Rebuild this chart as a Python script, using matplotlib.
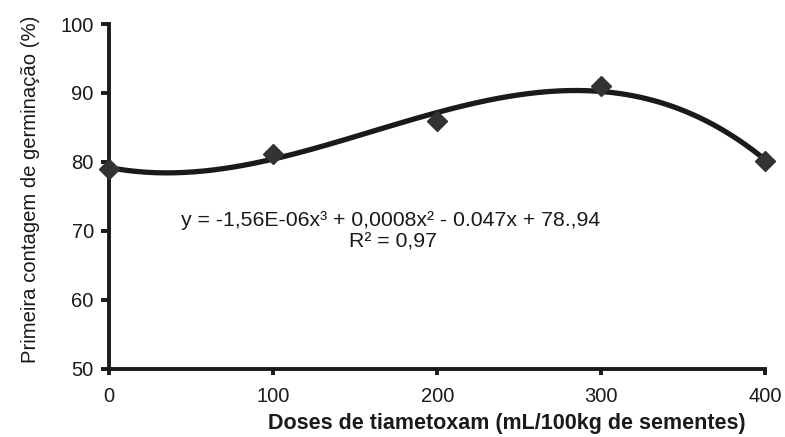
import matplotlib.pyplot as plt
import numpy as np

plt.rcParams['font.family'] = ['Liberation Sans', 'DejaVu Sans']

doses = [0, 100, 200, 300, 400]
germinacao = [79.0, 81.2, 86.0, 91.0, 80.1]

# linha de tendencia polinomial de ordem 3 (como no Excel)
coef = np.polyfit(doses, germinacao, 3)
xs = np.linspace(0, 400, 200)
ys = np.polyval(coef, xs)

fig = plt.figure(figsize=(7.85, 4.37), dpi=100)
ax = fig.add_axes([0.139, 0.156, 0.836, 0.789])

ax.plot(xs, ys, color='#1a1a1a', lw=3.8, zorder=2)
ax.plot(doses, germinacao, 'D', color='#333333', ms=10, zorder=3, clip_on=False)

ax.set_xlim(0, 400)
ax.set_ylim(50, 100)
ax.set_xticks(doses)
ax.set_yticks([50, 60, 70, 80, 90, 100])

for s in ['top', 'right']:
    ax.spines[s].set_visible(False)
for s in ['left', 'bottom']:
    ax.spines[s].set_linewidth(2.8)
    ax.spines[s].set_color('#1a1a1a')
ax.tick_params(direction='out', width=2.8, labelsize=14.5, colors='#1a1a1a')
ax.tick_params(axis='y', length=6, pad=5)
ax.tick_params(axis='x', length=4, pad=9)

ax.set_ylabel('Primeira contagem de germinação (%)', fontsize=14.6, color='#1a1a1a')
ax.yaxis.set_label_coords(-0.105, 0.52)
ax.set_xlabel('Doses de tiametoxam (mL/100kg de sementes)', fontsize=15.5, fontweight='bold',
              color='#1a1a1a')
ax.xaxis.set_label_coords(0.606, -0.128)

ax.text(0.11, 0.414, 'y = -1,56E-06x³ + 0,0008x² - 0.047x + 78.,94', transform=ax.transAxes,
        fontsize=15.3, color='#1a1a1a', va='baseline')
ax.text(0.5, 0.353, 'R² = 0,97', transform=ax.transAxes,
        fontsize=15.3, color='#1a1a1a', ha='right', va='baseline')

fig.savefig('out.png', dpi=100)
